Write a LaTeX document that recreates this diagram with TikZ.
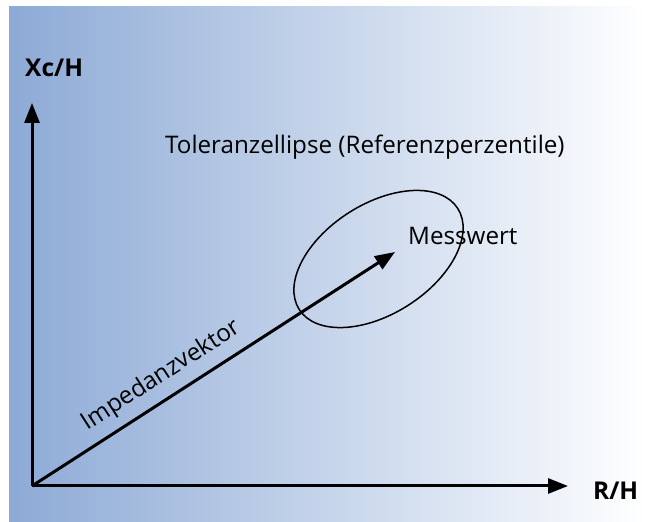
\documentclass[tikz,border=0pt]{standalone}
\usepackage{fontspec}
\setmainfont{Open Sans}
\usetikzlibrary{arrows.meta,shapes,positioning}
\definecolor{bgblue}{RGB}{141,170,214}
\tikzset{
  axis/.style={line width=3pt, -{Triangle[length=20pt,width=15pt]}},
  lbl/.style={inner sep=0pt, font=\fontsize{24.2}{29}\selectfont},
  axlbl/.style={inner sep=0pt, font=\fontsize{24.5}{29}\selectfont\bfseries},
}

\begin{document}
\begin{tikzpicture}[x=1pt,y=1pt]
  \useasboundingbox (0,0) rectangle (646,522);
  \shade[left color=bgblue, right color=white] (9,0) rectangle (646,515);

  \coordinate (origin) at (32,36);
  \coordinate (ytip) at (32,419);
  \coordinate (xtip) at (568,36);
  \coordinate (messpunkt) at (395,270);

  % Achsen
  \draw[axis] (origin) -- (ytip);
  \draw[axis] (origin) -- (xtip);
  \node[axlbl, anchor=base west] (xc) at (25,445) {Xc/H};
  \node[axlbl, anchor=base west] (rh) at (593,22) {R/H};

  % Toleranzellipse
  \draw[line width=1.5pt, rotate around={32.5:(378.5,263)}] (378.5,263) ellipse (94 and 55);
  \node[lbl, anchor=base west] (toleranz) at (165,368) {Toleranzellipse (Referenzperzentile)};

  % Impedanzvektor
  \draw[axis] (origin) -- node[lbl, pos=0.39, sloped, above=9pt] (vektor) {Impedanzvektor} (messpunkt);
  \node[lbl, anchor=base west] (messwert) at (408,277) {Messwert};
\end{tikzpicture}
\end{document}
